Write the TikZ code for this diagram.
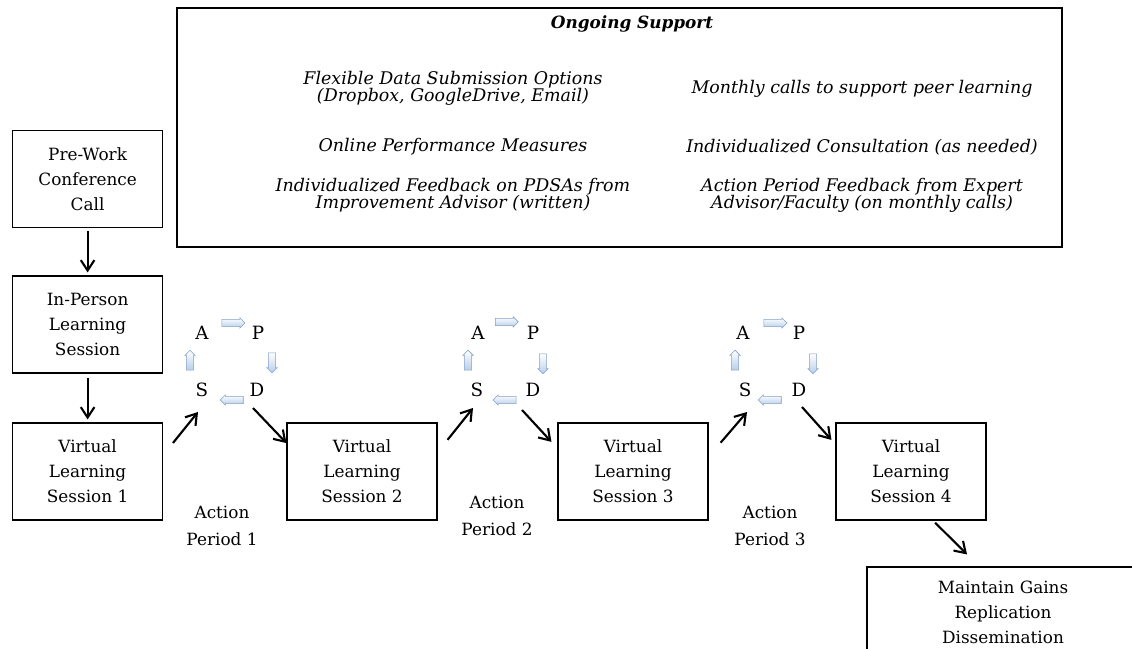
\documentclass[tikz,border=0pt]{standalone}
\usepackage{fontspec}
\setmainfont{DejaVu Serif}
\usetikzlibrary{positioning,arrows}
\usetikzlibrary{shapes,shapes.arrows}
\usetikzlibrary{arrows.meta}
\definecolor{pdsafill}{RGB}{182,206,234}
\definecolor{pdsaline}{RGB}{130,160,198}

\begin{document}
\begin{tikzpicture}[>={Straight Barb[length=2.6mm,width=3.4mm]}]
    \clip (0,0) rectangle (28.3,16.2);
    \tikzstyle{stage}=[font=\fontsize{12}{17.7}\selectfont, draw, thick, rectangle, align=center, minimum width=3.75cm, minimum height=2.425cm]
    \tikzstyle{offer}=[font=\fontsize{12.4}{12.2}\selectfont\itshape, align=center]
    \tikzstyle{phase}=[font=\fontsize{13}{15}\selectfont, inner sep=1pt]
    \tikzstyle{turn}=[single arrow, draw=pdsaline, top color=white, bottom color=pdsafill, minimum height=0.575cm, minimum width=0.24cm, inner sep=0.085cm, single arrow head extend=0.035cm]
    \tikzstyle{period}=[font=\fontsize{12}{19.2}\selectfont, align=center]
    \tikzstyle{link}=[line width=1.5pt, ->]
    % ongoing support panel
    \draw (15.4875,13.0125) node (support) [draw, thick, minimum width=22.125cm, minimum height=5.975cm] {};
    \draw (15.8,15.6) node (supporttitle) [font=\fontsize{12}{14}\selectfont\bfseries\itshape] {Ongoing Support};
    \draw (11.325,13.99) node (flexible) [offer] {Flexible Data Submission Options\\(Dropbox, GoogleDrive, Email)};
    \draw (11.325,12.525) node (online) [offer] {Online Performance Measures};
    \draw (11.325,11.325) node (feedback) [offer] {Individualized Feedback on PDSAs from\\Improvement Advisor (written)};
    \draw (21.55,13.975) node (monthly) [offer] {Monthly calls to support peer learning};
    \draw (21.55,12.525) node (consult) [offer] {Individualized Consultation (as needed)};
    \draw (21.55,11.325) node (expert) [offer] {Action Period Feedback from Expert\\Advisor/Faculty (on monthly calls)};
    % sessions
    \draw (2.19,11.725) node (prework) [stage] {Pre-Work\\Conference\\Call};
    \draw (2.19,8.0875) node (inperson) [stage] {In-Person\\Learning\\Session};
    \draw (2.19,4.4125) node (vls1) [stage] {Virtual\\Learning\\Session 1};
    \draw (9.05,4.4125) node (vls2) [stage] {Virtual\\Learning\\Session 2};
    \draw (15.825,4.4125) node (vls3) [stage] {Virtual\\Learning\\Session 3};
    \draw (22.775,4.4125) node (vls4) [stage] {Virtual\\Learning\\Session 4};
    \draw (25.075,0.9) node (maintain) [stage, minimum width=6.8cm, minimum height=2.25cm] {Maintain Gains\\Replication\\Dissemination};
    % PDSA cycles
    \draw (5.05,7.875) node (a1) [phase] {A};
    \draw (6.45,7.875) node (p1) [phase] {P};
    \draw (6.425,6.45) node (d1) [phase] {D};
    \draw (5.05,6.45) node (s1) [phase] {S};
    \draw (5.79,8.125) node (ap1) [turn] {};
    \draw (6.8,7.175) node (pd1) [turn, minimum height=0.5cm, shape border rotate=270] {};
    \draw (5.84,6.2) node (ds1) [turn, shape border rotate=180] {};
    \draw (4.75,7.15) node (sa1) [turn, minimum height=0.5cm, shape border rotate=90] {};
    \draw (11.95,7.875) node (a2) [phase] {A};
    \draw (13.325,7.875) node (p2) [phase] {P};
    \draw (13.325,6.45) node (d2) [phase] {D};
    \draw (11.925,6.45) node (s2) [phase] {S};
    \draw (12.625,8.15) node (ap2) [turn] {};
    \draw (13.575,7.15) node (pd2) [turn, minimum height=0.5cm, shape border rotate=270] {};
    \draw (12.66,6.2) node (ds2) [turn, shape border rotate=180] {};
    \draw (11.7,7.15) node (sa2) [turn, minimum height=0.5cm, shape border rotate=90] {};
    \draw (18.575,7.875) node (a3) [phase] {A};
    \draw (19.975,7.875) node (p3) [phase] {P};
    \draw (19.975,6.45) node (d3) [phase] {D};
    \draw (18.625,6.45) node (s3) [phase] {S};
    \draw (19.34,8.125) node (ap3) [turn] {};
    \draw (20.325,7.15) node (pd3) [turn, minimum height=0.5cm, shape border rotate=270] {};
    \draw (19.29,6.2) node (ds3) [turn, shape border rotate=180] {};
    \draw (18.375,7.15) node (sa3) [turn, minimum height=0.5cm, shape border rotate=90] {};
    % action periods
    \draw (5.55,3.04) node (period1) [period] {Action\\Period 1};
    \draw (12.425,3.29) node (period2) [period] {Action\\Period 2};
    \draw (19.25,3.04) node (period3) [period] {Action\\Period 3};
    % connectors
    \draw [link, shorten <=0.075cm, shorten >=0.075cm] (prework) -- (inperson);
    \draw [link, shorten <=0.1cm, shorten >=0.075cm] (inperson) -- (vls1);
    \draw [link, shorten <=0.39cm] ([yshift=0.41cm]vls1.east) -- ([xshift=-0.1cm,yshift=-0.55cm]s1.center);
    \draw [link] ([xshift=-0.1cm,yshift=-0.45cm]d1.center) -- ([yshift=0.71cm]vls2.west);
    \draw [link, shorten <=0.4cm] ([yshift=0.48cm]vls2.east) -- ([xshift=-0.1cm,yshift=-0.45cm]s2.center);
    \draw [link] ([xshift=-0.275cm,yshift=-0.5cm]d2.center) -- ([xshift=-0.15cm,yshift=0.74cm]vls3.west);
    \draw [link, shorten <=0.46cm] ([yshift=0.37cm]vls3.east) -- ([xshift=0.05cm,yshift=-0.55cm]s3.center);
    \draw [link] ([xshift=0.075cm,yshift=-0.425cm]d3.center) -- ([xshift=-0.1cm,yshift=0.79cm]vls4.west);
    \draw [link, shorten <=0.075cm] ([xshift=0.55cm]vls4.south) -- ([xshift=-0.9cm,yshift=0.3cm]maintain.north);
\end{tikzpicture}
\end{document}
